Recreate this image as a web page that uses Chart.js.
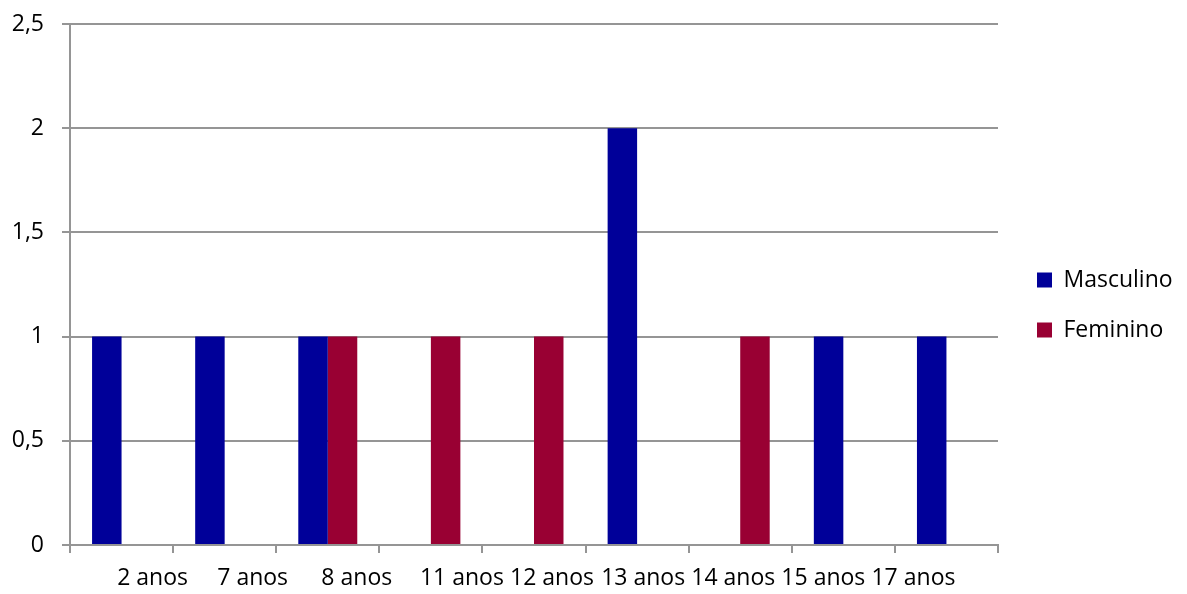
<!DOCTYPE html>
<html>
<head>
<meta charset="utf-8">
<script src="https://cdn.jsdelivr.net/npm/chart.js@4"></script>
<style>
  html, body { margin: 0; padding: 0; background: #fff; }
  #wrap { width: 1187px; height: 594px; }
</style>
</head>
<body>
<div id="wrap"><canvas id="myChart"></canvas></div>
<script>
const idades = ['2 anos', '7 anos', '8 anos', '11 anos', '12 anos', '13 anos', '14 anos', '15 anos', '17 anos'];
const masculino = [1, 1, 1, 0, 0, 2, 0, 1, 1];
const feminino = [0, 0, 1, 1, 1, 0, 1, 0, 0];
const yTicks = [0, 0.5, 1, 1.5, 2, 2.5];

// the age labels sit a little off their category centres
const labelNudge = [31, 28, 29, 31, 18, 6, -7, -20, -33];

const FONT = "'Open Sans', sans-serif";
const FONT_SIZE = 23;
const GREY = '#959595';

const ageLabels = {
    id: 'ageLabels',
    afterDraw(chart) {
        const x = chart.scales.x;
        const ctx = chart.ctx;
        ctx.save();
        ctx.font = FONT_SIZE + 'px ' + FONT;
        ctx.fillStyle = '#000';
        ctx.textAlign = 'center';
        ctx.textBaseline = 'middle';
        idades.forEach((txt, i) => {
            ctx.fillText(txt, x.getPixelForValue(i) + labelNudge[i], 578);
        });
        ctx.restore();
    }
};

// fixed legend column width, items pushed a bit away from the plot
const legendLayout = {
    id: 'legendLayout',
    beforeInit(chart) {
        const fit = chart.legend.fit;
        chart.legend.fit = function () {
            fit.call(this);
            this.width = 189;
        };
    },
    afterLayout(chart) {
        chart.legend.left += 12;
        chart.legend.right += 12;
        chart.legend.top -= 4;
        chart.legend.bottom -= 4;
    }
};

const getChart = document.getElementById('myChart');

new Chart(getChart, {
    type: 'bar',
    data: {
        labels: idades,
        datasets: [{
            label: 'Masculino',
            data: masculino,
            backgroundColor: '#000099'
        }, {
            label: 'Feminino',
            data: feminino,
            backgroundColor: '#990033'
        }]
    },
    options: {
        responsive: true,
        maintainAspectRatio: false,
        animation: false,
        categoryPercentage: 0.572,
        barPercentage: 1,
        layout: {
            padding: { left: 0, top: 24, right: 0, bottom: 0 }
        },
        scales: {
            x: {
                afterFit(scale) { scale.height = 49; },
                grid: {
                    drawOnChartArea: false,
                    drawTicks: true,
                    tickLength: 8,
                    lineWidth: 2,
                    color: GREY
                },
                border: { display: true, color: GREY, width: 2 },
                ticks: {
                    color: 'rgba(0,0,0,0)',
                    padding: 12,
                    font: { family: FONT, size: FONT_SIZE }
                }
            },
            y: {
                min: 0,
                max: 2.5,
                afterFit(scale) {
                    scale.width = 70;
                    scale.paddingTop = 0;
                    scale.paddingBottom = 0;
                },
                afterBuildTicks(scale) {
                    scale.ticks = yTicks.map(v => ({ value: v }));
                },
                grid: {
                    color: GREY,
                    lineWidth: 2,
                    tickLength: 8
                },
                border: { display: true, color: GREY, width: 2 },
                ticks: {
                    color: '#000',
                    padding: 18,
                    font: { family: FONT, size: FONT_SIZE },
                    callback: v => String(v).replace('.', ',')
                }
            }
        },
        plugins: {
            legend: {
                position: 'right',
                labels: {
                    boxWidth: 15,
                    boxHeight: 15,
                    padding: 27,
                    color: '#000',
                    font: { family: FONT, size: FONT_SIZE }
                }
            },
            tooltip: { enabled: false }
        }
    },
    plugins: [ageLabels, legendLayout]
});
</script>
</body>
</html>
